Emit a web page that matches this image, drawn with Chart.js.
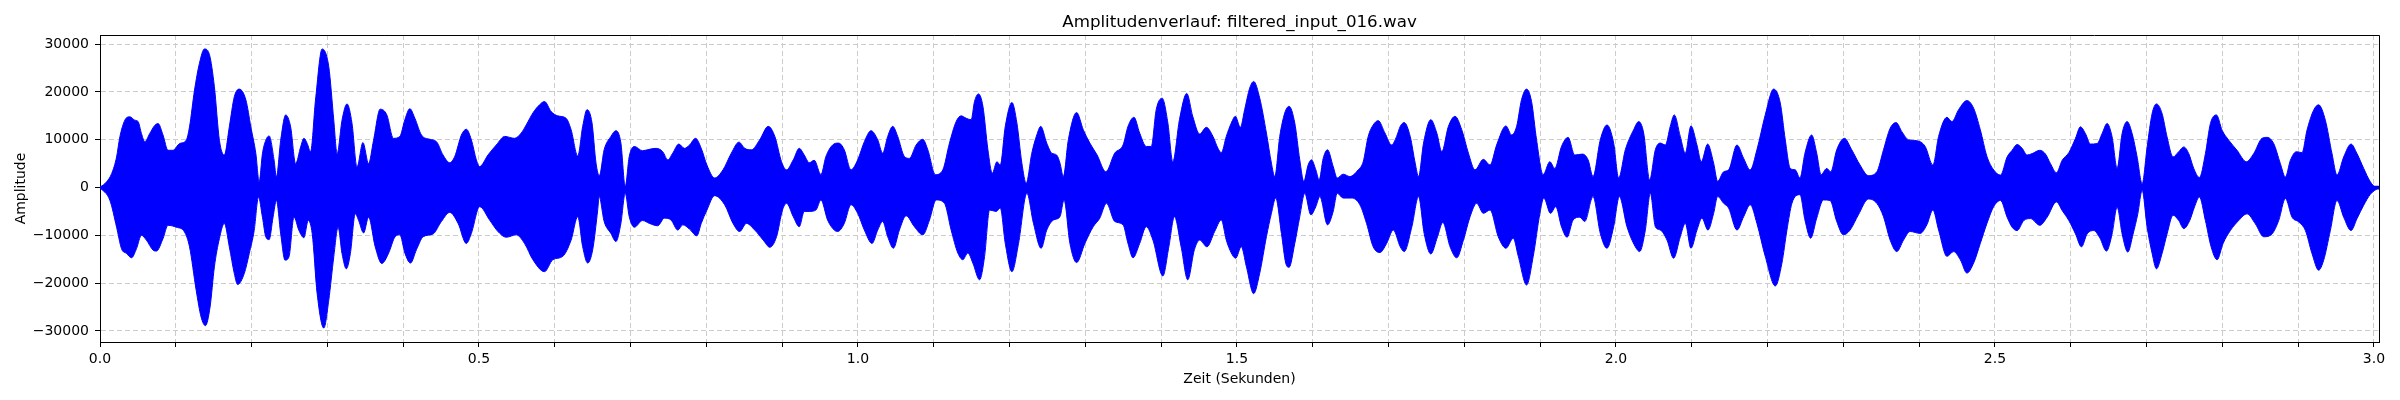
<!DOCTYPE html>
<html>
<head>
<meta charset="utf-8">
<script src="https://cdn.jsdelivr.net/npm/chart.js@4.4.1/dist/chart.umd.min.js"></script>
<style>html,body{margin:0;padding:0;background:#fff;}canvas{display:block;}</style>
</head>
<body>
<canvas id="c" width="2400" height="400"></canvas>
<script>
const chartTitle = 'Amplitudenverlauf: filtered_input_016.wav';
const xAxisTitle = 'Zeit (Sekunden)';
const yAxisTitle = 'Amplitude';

const xGridTicks = [0.0,0.1,0.2,0.3,0.4,0.5,0.6,0.7,0.8,0.9,1.0,1.1,1.2,1.3,1.4,1.5,1.6,1.7,1.8,1.9,2.0,2.1,2.2,2.3,2.4,2.5,2.6,2.7,2.8,2.9,3.0];
const xLabelTicks = [0.0,0.5,1.0,1.5,2.0,2.5,3.0];
const yTicks = [-30000,-20000,-10000,0,10000,20000,30000];
const xLimits = [0, 3.0066];
const yLimits = [-32320, 31920];

// upper envelope of the waveform (seconds, amplitude)
const timeUpper = [0.000,0.0087,0.0153,0.0219,0.0262,0.0328,0.0394,0.0459,0.0503,0.0547,0.0591,0.0656,0.0722,0.0766,0.0831,0.0897,0.0962,0.1050,0.1137,0.1181,0.1247,0.1312,0.1378,0.1444,0.1509,0.1575,0.1640,0.1706,0.1772,0.1837,0.1925,0.1990,0.2056,0.2100,0.2143,0.2187,0.2231,0.2297,0.2327,0.2384,0.2450,0.2515,0.2581,0.2647,0.2690,0.2734,0.2778,0.2843,0.2931,0.3018,0.3084,0.3128,0.3193,0.3259,0.3325,0.3390,0.3469,0.3543,0.3609,0.3696,0.3784,0.3871,
0.3956,0.4022,0.4088,0.4154,0.4241,0.4351,0.4439,0.4526,0.4614,0.4680,0.4768,0.4833,0.4899,0.4965,0.5009,0.5118,0.5228,0.5338,0.5469,0.5557,0.5623,0.5711,0.5798,0.5864,0.5952,0.6039,0.6149,0.6215,0.6303,0.6368,0.6425,0.6491,0.6544,0.6588,
0.6651,0.6740,0.6806,0.6872,0.6929,0.6982,0.7049,0.7159,0.7247,0.7336,0.7424,0.7490,0.7556,0.7636,0.7711,0.7777,0.7857,0.7932,0.8007,0.8108,0.8219,0.8329,0.8430,0.8506,0.8594,0.8704,0.8815,0.8903,0.8991,0.9057,0.9146,
0.9225,0.9291,0.9357,0.9423,0.9511,0.9577,0.9665,0.9744,0.9819,0.9907,0.9996,1.0084,1.0172,1.0260,1.0326,1.0392,1.0458,1.0524,1.0612,1.0678,1.0767,1.0855,1.0921,1.1022,1.1119,1.1207,1.1295,1.1361,1.1427,1.1493,1.1537,1.1590,1.1648,1.1714,1.1771,1.1833,
1.1877,1.1943,1.2031,1.2096,1.2162,1.2219,1.2293,1.2359,1.2411,1.2490,1.2556,1.2621,1.2665,1.2709,1.2775,1.2884,1.2972,1.3059,1.3155,1.3269,1.3387,1.3497,1.3562,1.3641,1.3716,1.3803,1.3869,1.3934,1.4013,1.4088,1.4153,1.4241,1.4337,1.4416,
1.4507,1.4595,1.4683,1.4749,1.4793,1.4859,1.4925,1.4978,1.5044,1.5101,1.5167,1.5220,1.5300,1.5388,1.5454,1.5498,1.5564,1.5630,1.5687,1.5762,1.5828,1.5881,1.5938,1.5982,1.6040,1.6084,1.6137,1.6194,1.6269,1.6322,1.6401,1.6489,1.6599,1.6665,1.6731,1.6797,1.6863,1.6952,1.7040,1.7106,
1.7154,1.7206,1.7285,1.7351,1.7395,1.7461,1.7557,1.7636,1.7702,1.7789,1.7877,1.7965,1.8053,1.8140,1.8250,1.8338,1.8425,1.8548,1.8623,1.8689,1.8754,1.8820,1.8886,1.8952,1.9039,1.9127,1.9193,1.9281,1.9368,1.9456,1.9557,1.9632,1.9697,
1.9793,1.9881,1.9969,2.0035,2.0123,2.0233,2.0299,2.0365,2.0444,2.0519,2.0585,2.0651,2.0716,2.0769,2.0848,2.0914,2.0989,2.1068,2.1125,2.1209,2.1288,2.1341,2.1420,2.1486,2.1596,2.1684,2.1771,2.1859,2.1969,2.2079,2.2167,2.2233,2.2299,2.2365,
2.2427,2.2493,2.2581,2.2648,2.2705,2.2780,2.2833,2.2912,2.3013,2.3110,2.3220,2.3330,2.3441,2.3529,2.3617,2.3696,2.3771,2.3859,2.3969,2.4079,2.4181,2.4256,2.4366,2.4432,2.4520,2.4630,2.4718,2.4806,2.4894,2.4982,
2.5073,2.5160,2.5226,2.5292,2.5358,2.5424,2.5490,2.5591,2.5666,2.5732,2.5811,2.5886,2.5974,2.6062,2.6127,2.6193,2.6259,2.6347,2.6413,2.6479,2.6545,2.6611,2.6677,2.6743,2.6809,2.6875,2.6941,2.7007,2.7073,2.7130,2.7204,2.7270,2.7349,2.7424,2.7490,2.7556,2.7622,2.7697,2.7776,2.7842,2.7921,2.7996,2.8084,2.8193,2.8316,2.8413,2.8523,2.8589,2.8677,2.8765,2.8831,2.8897,2.8976,2.9051,2.9116,2.9204,2.9270,2.9358,2.9446,2.9512,2.9600,2.9697,2.9776,2.9864,2.9952,3.0018,3.0066];
const ampUpper = [0,1200,2900,6400,10600,14100,14800,14100,13800,11300,9600,11300,13000,13400,11000,7800,7800,9200,9900,12700,20400,26000,29000,27800,21100,9900,6800,12700,19000,20600,18300,12700,7100,1200,7100,9900,10800,5700,2200,9900,15200,12700,5000,8500,10300,9200,7500,18300,29000,25300,14100,7100,14100,17500,13400,4300,9400,5000,9900,16400,15200,10300,
10700,14200,16500,14500,11000,10100,9600,6800,5200,6500,11000,12200,10000,5800,4400,6800,8900,10700,10300,11400,13100,15600,17300,18000,15900,15000,14500,12100,6600,12800,16300,13500,5100,2500,
7900,10700,11900,9300,200,6500,8600,7700,8000,8200,7500,5800,7200,9100,8200,8900,10300,8200,4700,2000,3700,7200,9500,8200,7900,10000,12800,10700,5400,3700,5800,
8200,6800,5200,5700,2700,6500,8900,9300,7900,3700,5800,9600,11900,10000,7200,10700,12800,10700,6500,6100,8900,10100,7900,2700,3700,9300,13800,15000,14500,14200,18000,19600,17000,7900,3000,5400,
4700,12800,17800,13500,5100,900,7200,11000,12800,9300,7200,6800,5100,2300,10000,15700,12100,9300,6800,3300,7200,8900,12800,14700,11400,8600,8600,16300,18700,13500,5400,14200,19700,14900,
11200,12600,10700,8200,7300,10700,13500,14900,12600,16300,20800,22200,18700,11400,5100,2300,10700,15600,17000,13500,5800,1300,4700,5800,3700,1600,6100,7900,4400,2000,2800,2300,3700,5400,10700,13100,14000,11400,8900,10700,
12800,13600,10700,5100,2300,9300,14200,11400,7500,12800,14900,12100,7200,3700,5900,4700,8900,12900,11000,12800,18400,20600,18000,10000,2700,5400,4000,8600,10500,6800,7000,5800,2300,
10000,13100,9300,2000,7900,12100,13800,11400,1600,7900,9300,8900,12800,15200,10700,7200,12900,8900,5400,9100,5100,1300,3300,3700,8900,6100,3700,7900,15200,20600,17700,10000,4000,3700,
2000,7200,11000,7200,2700,4000,3300,7900,10300,7900,4700,2500,3300,7900,12400,13600,11700,10000,9800,8600,4700,10700,14700,13800,16300,18200,16600,12100,6500,3700,
2600,6400,7800,9000,8200,6800,7100,7800,7000,5000,3100,5700,7300,10300,12700,11300,9100,9200,11300,13400,10600,4000,11300,13800,11300,6400,800,8500,15500,17500,15500,10600,6400,7500,8500,7100,4000,2100,7100,13400,15200,12000,9900,7800,5400,7100,10300,10500,9200,5000,2200,5700,7500,7300,12000,16200,17300,14100,7100,2600,6400,9100,7100,4000,1200,100,0];

// lower envelope of the waveform (seconds, amplitude)
const timeLower = [0.000,0.0131,0.0219,0.0284,0.0350,0.0416,0.0481,0.0547,0.0612,0.0700,0.0744,0.0831,0.0897,0.1006,0.1115,0.1181,0.1269,0.1334,0.1391,0.1452,0.1509,0.1575,0.1640,0.1706,0.1772,0.1815,0.1903,0.1969,0.2034,0.2091,0.2143,0.2187,0.2231,0.2283,0.2327,0.2384,0.2441,0.2493,0.2559,0.2625,0.2690,0.2747,0.2800,0.2865,0.2953,0.3018,0.3084,0.3141,0.3193,0.3250,0.3303,0.3368,0.3412,0.3478,0.3543,0.3631,0.3718,0.3806,0.3893,
0.3956,0.4022,0.4096,0.4175,0.4263,0.4395,0.4504,0.4614,0.4724,0.4833,0.4899,0.5009,0.5140,0.5250,0.5360,0.5491,0.5601,0.5711,0.5864,0.5974,0.6105,0.6215,0.6303,0.6368,0.6434,0.6500,0.6566,
0.6585,0.6651,0.6740,0.6806,0.6872,0.6929,0.6982,0.7049,0.7159,0.7247,0.7358,0.7446,0.7534,0.7623,0.7689,0.7777,0.7874,0.7932,0.8007,0.8108,0.8241,0.8351,0.8439,0.8528,0.8638,0.8749,0.8837,0.8925,0.9004,0.9057,0.9146,
0.9225,0.9291,0.9357,0.9445,0.9511,0.9599,0.9687,0.9731,0.9819,0.9907,0.9996,1.0084,1.0185,1.0260,1.0326,1.0392,1.0467,1.0546,1.0634,1.0744,1.0855,1.0943,1.1031,1.1141,1.1229,1.1317,1.1383,1.1449,1.1515,1.1604,1.1670,1.1736,1.1824,
1.1877,1.1943,1.2031,1.2118,1.2228,1.2315,1.2416,1.2490,1.2578,1.2665,1.2718,1.2796,1.2884,1.2993,1.3103,1.3190,1.3278,1.3387,1.3497,1.3562,1.3628,1.3716,1.3803,1.3891,1.4022,1.4101,1.4175,1.4263,1.4350,1.4438,
1.4507,1.4604,1.4705,1.4793,1.4859,1.4925,1.4982,1.5057,1.5123,1.5220,1.5300,1.5388,1.5454,1.5511,1.5586,1.5643,1.5687,1.5762,1.5828,1.5894,1.5974,1.6040,1.6093,1.6194,1.6269,1.6322,1.6401,1.6511,1.6621,1.6709,1.6797,1.6885,1.6974,1.7062,
1.7154,1.7206,1.7307,1.7395,1.7469,1.7557,1.7645,1.7715,1.7811,1.7899,1.7987,1.8075,1.8162,1.8250,1.8338,1.8447,1.8548,1.8645,1.8711,1.8820,1.8908,1.8996,1.9048,1.9136,1.9206,1.9281,1.9355,1.9434,1.9522,1.9588,1.9697,
1.9793,1.9881,1.9969,2.0044,2.0145,2.0255,2.0312,2.0387,2.0453,2.0519,2.0585,2.0673,2.0760,2.0848,2.0914,2.0989,2.1068,2.1134,2.1213,2.1288,2.1341,2.1420,2.1486,2.1596,2.1684,2.1771,2.1859,2.1969,2.2101,2.2189,2.2255,2.2321,
2.2427,2.2493,2.2568,2.2648,2.2736,2.2824,2.2912,2.3000,2.3088,2.3198,2.3330,2.3441,2.3529,2.3617,2.3705,2.3793,2.3881,2.4013,2.4101,2.4181,2.4256,2.4366,2.4454,2.4542,2.4630,2.4718,2.4806,2.4894,2.4982,
2.5073,2.5160,2.5226,2.5292,2.5380,2.5468,2.5591,2.5688,2.5811,2.5886,2.5974,2.6062,2.6141,2.6215,2.6303,2.6382,2.6470,2.6545,2.6611,2.6677,2.6752,2.6822,2.6884,2.6941,2.7007,2.7073,2.7130,2.7204,2.7270,2.7349,2.7424,2.7490,2.7569,2.7631,2.7697,2.7776,2.7851,2.7930,2.8009,2.8105,2.8215,2.8325,2.8435,2.8545,2.8655,2.8743,2.8831,2.8919,2.9007,2.9095,2.9182,2.9270,2.9336,2.9424,2.9512,2.9600,2.9697,2.9776,2.9864,2.9952,3.0066];
const ampLower = [0,-2700,-8300,-12800,-13800,-14700,-12800,-10000,-11000,-13100,-13300,-10700,-7900,-8300,-9300,-12400,-21500,-27100,-28900,-25000,-16600,-10700,-7500,-12400,-18000,-20300,-18000,-13800,-9000,-2000,-6200,-10300,-10900,-6200,-2700,-9700,-15200,-14500,-6200,-9000,-10500,-6900,-9700,-22200,-29400,-23600,-14500,-8300,-13800,-17000,-13800,-5500,-6900,-9500,-6200,-12400,-15900,-13800,-10300,
-9900,-13700,-15800,-13000,-10300,-9700,-7100,-5200,-7500,-11700,-9600,-4000,-6800,-9200,-10400,-9900,-11700,-15100,-17600,-15100,-14400,-11000,-6100,-12400,-15800,-13000,-4700,
-1900,-7100,-9600,-11300,-7500,-1200,-6100,-8300,-6900,-7500,-8000,-6400,-6800,-8900,-7800,-8700,-10100,-7500,-4700,-1700,-3600,-7500,-9200,-7500,-8900,-11000,-12500,-10300,-4700,-3300,-6100,
-8200,-5000,-5000,-4700,-2600,-6800,-8900,-9200,-7500,-3600,-5400,-8900,-11700,-8900,-7100,-10300,-12700,-8900,-5900,-8200,-9900,-6800,-2600,-3300,-8900,-13700,-15100,-13700,-15800,-19300,-14400,-4700,-5000,
-4300,-11700,-17600,-11700,-1200,-7500,-12700,-8900,-6800,-6100,-2600,-11700,-15700,-11700,-8200,-6400,-3300,-7100,-7800,-11700,-14700,-11700,-8200,-11000,-18500,-12400,-6100,-12400,-19300,-13000,
-11000,-12400,-9200,-6800,-11000,-13700,-14800,-12400,-16500,-22200,-17900,-10300,-5400,-2200,-9600,-15800,-16700,-11700,-6100,-1200,-5700,-4000,-1900,-7800,-5000,-1200,-2200,-2200,-3600,-7500,-12400,-13600,-11700,-8900,
-12400,-13400,-8200,-1900,-9600,-13900,-10300,-7300,-12400,-14700,-11000,-6100,-3300,-5400,-4700,-10300,-12700,-10600,-14400,-20400,-14400,-5400,-2200,-5400,-4000,-8200,-10400,-6800,-6200,-7100,-1900,
-9600,-12700,-8200,-1900,-8200,-12400,-13400,-8900,-1200,-8200,-8900,-11000,-14800,-10300,-7500,-12700,-8900,-6400,-8900,-5400,-1900,-3300,-4300,-8900,-6100,-3600,-7500,-14400,-20600,-15800,-8900,-3300,
-1500,-6800,-10600,-6400,-2600,-2700,-7100,-9900,-8900,-5700,-2400,-3300,-6100,-11000,-13400,-11000,-9200,-9600,-7800,-4700,-8900,-14400,-13400,-15100,-17900,-15800,-11700,-7500,-4000,
-2700,-6200,-8300,-9000,-6900,-6500,-7900,-6200,-3000,-4800,-6900,-9700,-12400,-9700,-9000,-10500,-13300,-9700,-4100,-9700,-13500,-9700,-5500,-600,-8300,-13800,-17000,-13800,-9700,-5800,-6900,-8600,-6900,-4100,-2000,-6900,-12400,-15100,-11700,-9000,-6900,-5500,-7600,-10300,-9700,-6900,-2300,-6200,-7200,-9000,-13800,-17300,-15200,-9000,-2700,-6200,-9000,-6500,-3700,-1400,0];

const FONT = "'DejaVu Sans', 'Liberation Sans', sans-serif";

const textPlugin = {
  id: 'mplText',
  afterDraw(chart) {
    const ctx = chart.ctx;
    const a = chart.chartArea;
    ctx.save();
    // top and right spines
    ctx.strokeStyle = '#000';
    ctx.lineWidth = 1;
    ctx.beginPath();
    ctx.moveTo(a.left, a.top + 0.5);
    ctx.lineTo(a.right + 0.5, a.top + 0.5);
    ctx.lineTo(a.right + 0.5, a.bottom);
    ctx.stroke();
    ctx.fillStyle = '#000';
    const cx = (a.left + a.right) / 2;
    ctx.textAlign = 'center';
    ctx.textBaseline = 'alphabetic';
    ctx.font = '16.7px ' + FONT;
    ctx.fillText(chartTitle, cx, 27.3);
    ctx.font = '14px ' + FONT;
    ctx.fillText(xAxisTitle, cx, 383.3);
    ctx.translate(21, (a.top + a.bottom) / 2);
    ctx.rotate(-Math.PI / 2);
    ctx.textBaseline = 'middle';
    ctx.fillText(yAxisTitle, 0, 0);
    ctx.restore();
  }
};

const upperData = timeUpper.map((t, i) => ({x: t, y: ampUpper[i]}));
const lowerData = timeLower.map((t, i) => ({x: t, y: ampLower[i]}));

new Chart(document.getElementById('c'), {
  type: 'line',
  data: {
    datasets: [
      {data: upperData, fill: {value: -400}, backgroundColor: '#0000ff', borderColor: '#0000ff', borderWidth: 1, pointRadius: 0, cubicInterpolationMode: 'monotone'},
      {data: lowerData, fill: {value: 400}, backgroundColor: '#0000ff', borderColor: '#0000ff', borderWidth: 1, pointRadius: 0, cubicInterpolationMode: 'monotone'}
    ]
  },
  options: {
    responsive: false,
    animation: false,
    devicePixelRatio: 1,
    layout: {padding: {top: 35, left: 0, right: 21, bottom: 0}},
    plugins: {legend: {display: false}, tooltip: {enabled: false}, title: {display: false}},
    scales: {
      x: {
        type: 'linear',
        min: xLimits[0], max: xLimits[1],
        afterBuildTicks: s => { s.ticks = xGridTicks.map(v => ({value: v})); },
        afterFit: s => { s.height = 58; },
        ticks: {
          autoSkip: false, maxRotation: 0, minRotation: 0, padding: 4,
          color: '#000', font: {family: FONT, size: 14},
          callback: v => xLabelTicks.some(m => Math.abs(m - v) < 1e-6) ? Number(v).toFixed(1) : ''
        },
        grid: {color: '#cccccc', lineWidth: 1, tickLength: 5, tickColor: '#000', tickWidth: 1},
        border: {display: true, color: '#000', width: 1, dash: [5, 3]}
      },
      y: {
        type: 'linear',
        min: yLimits[0], max: yLimits[1],
        afterBuildTicks: s => { s.ticks = yTicks.map(v => ({value: v})); },
        afterFit: s => { s.width = 100; },
        ticks: {
          padding: 6, color: '#000', font: {family: FONT, size: 14},
          callback: v => v < 0 ? '\u2212' + Math.abs(v) : String(v)
        },
        grid: {color: '#cccccc', lineWidth: 1, tickLength: 5, tickColor: '#000', tickWidth: 1},
        border: {display: true, color: '#000', width: 1, dash: [5, 3]}
      }
    }
  },
  plugins: [textPlugin]
});
</script>
</body>
</html>
